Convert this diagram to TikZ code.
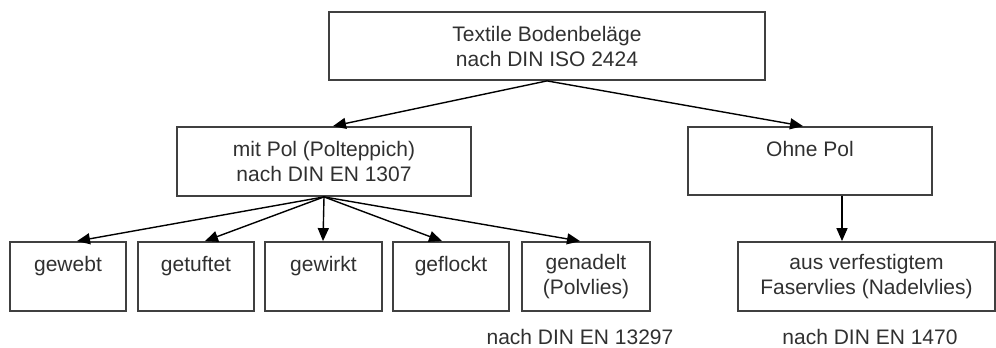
\documentclass[tikz,border=0pt]{standalone}
\usepackage{fontspec}
\setmainfont{Liberation Sans}
\usetikzlibrary{arrows.meta}
\definecolor{boxline}{HTML}{404040}
\definecolor{txt}{HTML}{303030}
\begin{document}
\begin{tikzpicture}[x=1pt,y=-1pt,
  every node/.style={font=\fontsize{21}{25}\selectfont, text=txt},
  box/.style={draw=boxline, line width=1.8pt, rectangle, align=center, inner sep=0pt},
  conn/.style={line width=1.4pt, -{Triangle[length=13pt,width=11pt]}},
  lbl/.style={inner sep=0pt}]
\useasboundingbox (0,0) rectangle (996,348);
\node[box, minimum width=436pt, minimum height=68pt] (top) at (547,46) {Textile Bodenbeläge\\nach DIN ISO 2424};
\node[box, minimum width=294pt, minimum height=69pt] (mid) at (324,161.5) {mit Pol (Polteppich)\\nach DIN EN 1307};
\node[box, minimum width=244pt, minimum height=68pt] (ohne) at (810,161) {Ohne Pol\\\mbox{}};
\node[box, minimum width=116pt, minimum height=69pt] (gewebt) at (68,276.5) {gewebt\\\mbox{}};
\node[box, minimum width=116pt, minimum height=69pt] (getuftet) at (196,276.5) {getuftet\\\mbox{}};
\node[box, minimum width=117pt, minimum height=69pt] (gewirkt) at (323.5,276.5) {gewirkt\\\mbox{}};
\node[box, minimum width=116pt, minimum height=69pt] (geflockt) at (451,276.5) {geflockt\\\mbox{}};
\node[box, minimum width=128pt, minimum height=69pt] (genadelt) at (586,276.5) {genadelt\\(Polvlies)};
\node[box, minimum width=257pt, minimum height=69pt] (vlies) at (866.5,276.5) {aus verfestigtem\\Faservlies (Nadelvlies)};
\node[lbl] (n1) at (580,337) {nach DIN EN 13297};
\node[lbl] (n2) at (870,337) {nach DIN EN 1470};
\draw[conn] (top.south) -- ([xshift=9pt]mid.north);
\draw[conn] (top.south) -- ([xshift=-7pt]ohne.north);
\draw[conn] (mid.south) -- ([xshift=9pt]gewebt.north);
\draw[conn] (mid.south) -- ([xshift=9pt]getuftet.north);
\draw[conn] (mid.south) -- ([xshift=-0.5pt]gewirkt.north);
\draw[conn] (mid.south) -- ([xshift=-9pt]geflockt.north);
\draw[conn] (mid.south) -- ([xshift=-6pt]genadelt.north);
\draw[conn] ([xshift=32pt]ohne.south) -- ([xshift=-24.5pt]vlies.north);
\end{tikzpicture}
\end{document}
